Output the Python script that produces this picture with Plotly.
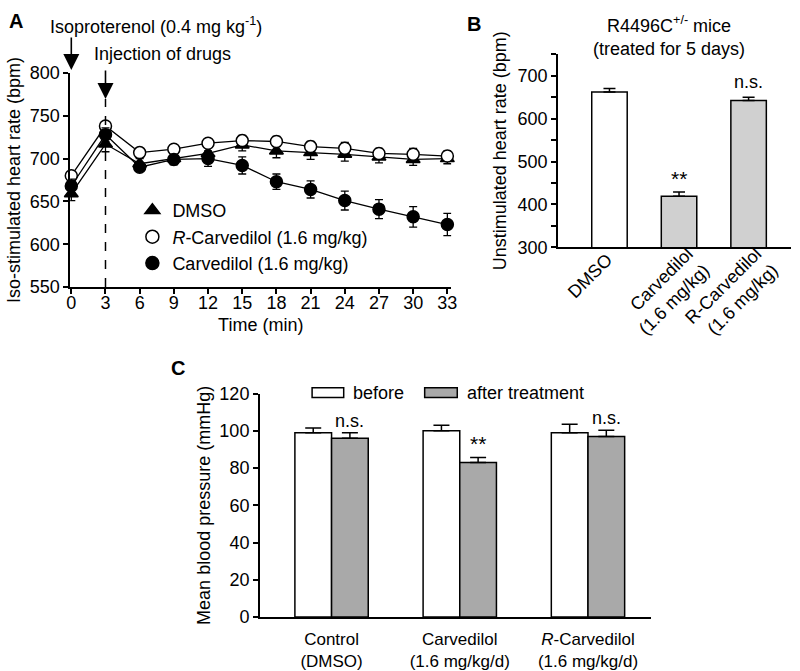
import plotly.graph_objects as go

# ---------------- data ----------------
time_min = [0, 3, 6, 9, 12, 15, 18, 21, 24, 27, 30, 33]
dmso_hr = [659, 717, 694, 700, 706, 716, 709, 707, 705, 702, 699, 700]
dmso_err = [8, 9, 6, 7, 7, 7, 8, 8, 8, 7, 7, 6]
rcarv_hr = [680, 738, 707, 711, 718, 721, 720, 714, 712, 706, 705, 703]
rcarv_err = [5, 5, 5, 5, 5, 6, 6, 6, 7, 6, 7, 6]
carv_hr = [668, 728, 690, 699, 700, 692, 673, 664, 651, 641, 632, 623]
carv_err = [8, 8, 5, 6, 9, 10, 9, 10, 11, 11, 12, 13]

b_labels = ["DMSO", "Carvedilol<br>(1.6 mg/kg)", "R-Carvedilol<br>(1.6 mg/kg)"]
b_values = [662, 419, 642]
b_err = [8, 10, 8]

c_labels = ["Control<br>(DMSO)", "Carvedilol<br>(1.6 mg/kg/d)", "<i>R</i>-Carvedilol<br>(1.6 mg/kg/d)"]
c_before = [99, 100, 99]
c_before_err = [2.5, 3, 4.5]
c_after = [96, 83, 97]
c_after_err = [3, 2.7, 3.3]

# ---------------- helpers ----------------
W, H = 800, 671
def px(x):
    return x / W
def py(y):
    return 1 - y / H

FONT = "Liberation Sans, Arial, Helvetica, sans-serif"
FS = 18
BLACK = "black"

fig = go.Figure()

# ---------------- panel A ----------------
a_series = [
    ("DMSO", dmso_hr, dmso_err, "triangle-up", BLACK),
    ("<i>R</i>-Carvedilol (1.6 mg/kg)", rcarv_hr, rcarv_err, "circle", "white"),
    ("Carvedilol (1.6 mg/kg)", carv_hr, carv_err, "circle", BLACK),
]
for name, vals, errs, sym, fillc in a_series:
    fig.add_trace(go.Scatter(
        x=time_min, y=vals, mode="lines+markers", showlegend=False,
        line=dict(color=BLACK, width=1.3),
        marker=dict(symbol=sym, size=12, color=fillc, line=dict(color=BLACK, width=1.5)),
        error_y=dict(type="data", array=errs, color=BLACK, thickness=1.3, width=4),
        xaxis="x", yaxis="y", cliponaxis=False))
for name, vals, errs, sym, fillc in a_series:
    fig.add_trace(go.Scatter(
        x=[None], y=[None], mode="markers", name=name, showlegend=True,
        marker=dict(symbol=sym, size=13, color=fillc, line=dict(color=BLACK, width=1.5)),
        xaxis="x", yaxis="y", legend="legend"))

# ---------------- panel B ----------------
b_fill = ["white", "#d0d0d0", "#d0d0d0"]
fig.add_trace(go.Bar(
    x=[0, 1, 2], y=b_values, width=0.51, showlegend=False,
    marker=dict(color=b_fill, line=dict(color=BLACK, width=1.5)),
    error_y=dict(type="data", array=b_err, arrayminus=[0, 0, 0], symmetric=False,
                 color=BLACK, thickness=1.5, width=6),
    xaxis="x2", yaxis="y2"))

# ---------------- panel C ----------------
bw = 0.286
fig.add_trace(go.Bar(
    x=[0, 1, 2], y=c_before, width=bw, offset=-bw, showlegend=False,
    marker=dict(color="white", line=dict(color=BLACK, width=1.5)),
    error_y=dict(type="data", array=c_before_err, arrayminus=[0, 0, 0], symmetric=False,
                 color=BLACK, thickness=1.5, width=8),
    xaxis="x3", yaxis="y3"))
fig.add_trace(go.Bar(
    x=[0, 1, 2], y=c_after, width=bw, offset=0, showlegend=False,
    marker=dict(color="#a9a9a9", line=dict(color=BLACK, width=1.5)),
    error_y=dict(type="data", array=c_after_err, arrayminus=[0, 0, 0], symmetric=False,
                 color=BLACK, thickness=1.5, width=8),
    xaxis="x3", yaxis="y3"))

axis_common = dict(showgrid=False, zeroline=False, showline=True, linecolor=BLACK,
                   linewidth=1.5, ticks="outside", ticklen=5, tickwidth=1.5,
                   tickcolor=BLACK, tickfont=dict(family=FONT, size=FS, color=BLACK))

fig.update_layout(
    width=W, height=H, margin=dict(l=0, r=0, t=0, b=0),
    plot_bgcolor="white", paper_bgcolor="white",
    font=dict(family=FONT, size=FS, color=BLACK),
    barmode="overlay",
    xaxis=dict(**axis_common, domain=[px(67), px(453)], range=[-0.1, 33.35],
               tickvals=time_min, anchor="y", ticklabelstandoff=-6,
               title=dict(text="Time (min)", font=dict(family=FONT, size=FS), standoff=6)),
    yaxis=dict(**axis_common, domain=[py(286), py(65)], range=[550, 800],
               tickvals=[550, 600, 650, 700, 750, 800], anchor="x",
               title=dict(text="Iso-stimulated heart rate (bpm)", font=dict(family=FONT, size=FS), standoff=4)),
    xaxis2=dict(**{**axis_common, "ticks": ""}, domain=[px(561), px(797)], range=[-0.74, 2.61],
                tickvals=[0, 1, 2], showticklabels=False, anchor="y2"),
    yaxis2=dict(**axis_common, domain=[py(245), py(45.7)], range=[300, 750],
                tickvals=[300, 350, 400, 450, 500, 550, 600, 650, 700, 750],
                ticktext=["300", "", "400", "", "500", "", "600", "", "700", ""], anchor="x2",
                title=dict(text="Unstimulated heart rate (bpm)", font=dict(family=FONT, size=FS), standoff=6)),
    xaxis3=dict(**{**axis_common, "ticks": "", "tickfont": dict(family=FONT, size=17, color=BLACK)},
                domain=[px(259), px(655)], range=[-0.56, 2.49],
                tickvals=[0, 1, 2], ticktext=c_labels, anchor="y3", ticklabelstandoff=6),
    yaxis3=dict(**axis_common, domain=[py(626.7), py(396)], range=[0, 120],
                tickvals=[0, 20, 40, 60, 80, 100, 120], anchor="x3",
                title=dict(text="Mean blood pressure (mmHg)", font=dict(family=FONT, size=FS), standoff=4)),
    legend=dict(x=px(130), y=py(188), xanchor="left", yanchor="top",
                bgcolor="rgba(0,0,0,0)", font=dict(family=FONT, size=FS),
                tracegroupgap=0, itemwidth=30),
)

ann = []
def txt(x, y, s, size=FS, bold=False, xanchor="center"):
    ann.append(dict(x=x, y=y, xref="paper", yref="paper", text=("<b>%s</b>" % s) if bold else s,
                    showarrow=False, xanchor=xanchor, yanchor="middle",
                    font=dict(family=FONT, size=size, color=BLACK)))

# panel letters
txt(px(3), py(11), "A", size=20, bold=True, xanchor="left")
txt(px(467), py(14), "B", size=20, bold=True, xanchor="left")
txt(px(167), py(370), "C", size=20, bold=True, xanchor="left")

# panel A annotations
txt(px(45), py(16), "Isoproterenol (0.4 mg kg<sup>-1</sup>)", xanchor="left")
txt(px(89), py(45), "Injection of drugs", xanchor="left")
for tx, y0, y1 in [(0, 28, 62), (3, 62, 92)]:
    ann.append(dict(x=tx, y=py(y1), xref="x", yref="paper", ax=0, ay=-(y1 - y0),
                    axref="pixel", ayref="pixel", text="", showarrow=True,
                    arrowhead=2, arrowsize=2, arrowwidth=1.6, arrowcolor=BLACK))

# panel B: rotated category labels, anchored at each category below the axis
for i, lab in enumerate(b_labels):
    nlines = lab.count("<br>") + 1
    ann.append(dict(x=i, y=py(246), xref="x2", yref="paper", text=lab, textangle=-45,
                    showarrow=False, xanchor="right", yanchor="top", align="right",
                    xshift=8 + 27 * (nlines - 1), yshift=6 * (nlines - 1), borderpad=0,
                    font=dict(family=FONT, size=FS, color=BLACK)))

# panel B titles and marks
txt(px(673), py(15), "R4496C<sup>+/-</sup> mice")
txt(px(673), py(40), "(treated for 5 days)")
ann.append(dict(x=1, y=b_values[1] + b_err[1], xref="x2", yref="y2", text="**",
                showarrow=False, yanchor="bottom", yshift=0,
                font=dict(family=FONT, size=21, color=BLACK)))
ann.append(dict(x=2, y=b_values[2] + b_err[2], xref="x2", yref="y2", text="n.s.",
                showarrow=False, yanchor="bottom", yshift=3,
                font=dict(family=FONT, size=FS, color=BLACK)))

# panel C annotations
c_marks = ["n.s.", "**", "n.s."]
for i, m in enumerate(c_marks):
    ann.append(dict(x=i + bw / 2, y=c_after[i] + c_after_err[i], xref="x3", yref="y3", text=m,
                    showarrow=False, yanchor="bottom", yshift=0,
                    font=dict(family=FONT, size=21 if m == "**" else FS, color=BLACK)))
# panel C legend text
txt(px(351), py(395), "before", xanchor="left")
txt(px(467), py(395), "after treatment", xanchor="left")

fig.update_layout(annotations=ann)

shapes = [
    dict(type="line", xref="x", yref="paper", x0=3, x1=3, y0=py(286), y1=py(92),
         line=dict(color=BLACK, width=1.5, dash="dash")),
    dict(type="rect", xref="paper", yref="paper", x0=px(312), x1=px(344), y0=py(400), y1=py(390),
         fillcolor="white", line=dict(color=BLACK, width=1.5)),
    dict(type="rect", xref="paper", yref="paper", x0=px(426), x1=px(459), y0=py(400), y1=py(390),
         fillcolor="#a9a9a9", line=dict(color=BLACK, width=1.5)),
]
fig.update_layout(shapes=shapes)

fig.write_html("out.html", config={"displayModeBar": False},
               post_script="document.body.style.margin='0px';")
